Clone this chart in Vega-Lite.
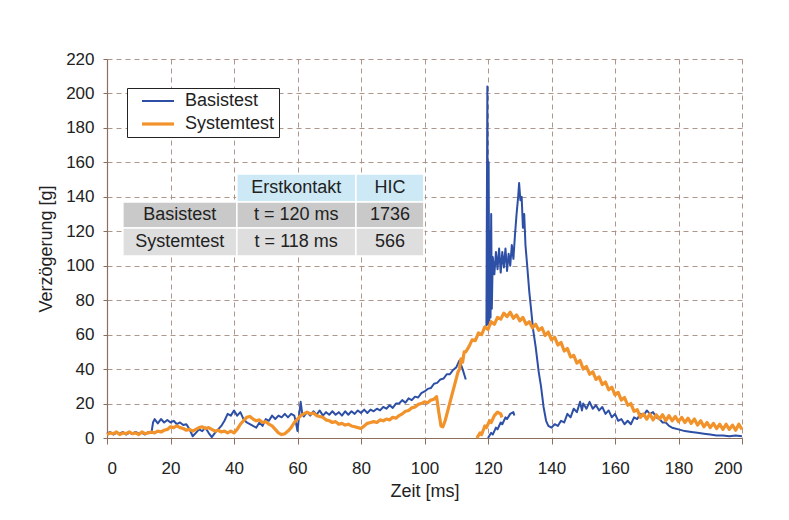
{
"$schema":"https://vega.github.io/schema/vega-lite/v6.json",
"width":635,"height":379,
"padding":{"left":37,"top":50,"right":10,"bottom":10},
"background":"white",
"config":{"font":"Liberation Sans","view":{"stroke":null},
"axis":{"labelFontSize":17,"titleFontSize":18,"titleFontWeight":"normal","labelColor":"#222","titleColor":"#222","domainColor":"#8c6e5e","tickColor":"#8c6e5e","gridColor":"#a58b7e","gridDash":[5,4],"gridOpacity":0.9,"domainWidth":1.2,"labelOverlap":false}},
"layer":[
{"data":{"values":[
{"x0":40.9,"x1":78.4,"y0":137,"y1":153.2,"f":"h"},
{"x0":78.4,"x1":99.8,"y0":137,"y1":153.2,"f":"h"},
{"x0":5,"x1":40.9,"y0":121.9,"y1":137,"f":"a"},
{"x0":40.9,"x1":78.4,"y0":121.9,"y1":137,"f":"a"},
{"x0":78.4,"x1":99.8,"y0":121.9,"y1":137,"f":"a"},
{"x0":5,"x1":40.9,"y0":105.6,"y1":121.9,"f":"b"},
{"x0":40.9,"x1":78.4,"y0":105.6,"y1":121.9,"f":"b"},
{"x0":78.4,"x1":99.8,"y0":105.6,"y1":121.9,"f":"b"}]},
"mark":{"type":"rect","stroke":"white","strokeWidth":1.5},
"encoding":{"x":{"field":"x0","type":"quantitative","scale":{"domain":[0,200],"nice":false},"axis":{"title":"Zeit [ms]","values":[0,20,40,60,80,100,120,140,160,180,200],"tickSize":6,"labelPadding":16,"titlePadding":6,"labelOverlap":false}},"x2":{"field":"x1"},
"y":{"field":"y0","type":"quantitative","scale":{"domain":[0,220],"nice":false},"axis":{"title":"Verzögerung [g]","values":[0,20,40,60,80,100,120,140,160,180,200,220],"tickSize":4,"labelPadding":9,"titlePadding":10,"labelOverlap":false}},"y2":{"field":"y1"},
"fill":{"field":"f","type":"nominal","scale":{"domain":["h","a","b"],"range":["#cde9f6","#c9c9c9","#dedede"]},"legend":null}}},
{"data":{"values":[
{"tx":59.6,"ty":145.1,"txt":"Erstkontakt"},{"tx":89.1,"ty":145.1,"txt":"HIC"},
{"tx":22.9,"ty":129.4,"txt":"Basistest"},{"tx":59.6,"ty":129.4,"txt":"t = 120 ms"},{"tx":89.1,"ty":129.4,"txt":"1736"},
{"tx":22.9,"ty":113.8,"txt":"Systemtest"},{"tx":59.6,"ty":113.8,"txt":"t = 118 ms"},{"tx":89.1,"ty":113.8,"txt":"566"}]},
"mark":{"type":"text","fontSize":18,"color":"#222","align":"center","baseline":"middle"},
"encoding":{"x":{"field":"tx","type":"quantitative","scale":{"domain":[0,200],"nice":false},"axis":{"title":"Zeit [ms]","values":[0,20,40,60,80,100,120,140,160,180,200],"tickSize":6,"labelPadding":16,"titlePadding":6,"labelOverlap":false}},
"y":{"field":"ty","type":"quantitative","scale":{"domain":[0,220],"nice":false},"axis":{"title":"Verzögerung [g]","values":[0,20,40,60,80,100,120,140,160,180,200,220],"tickSize":4,"labelPadding":9,"titlePadding":10,"labelOverlap":false}},"text":{"field":"txt"}}},
{"data":{"values":[
{"s":"Basistest","k":"b1","t":0,"g":2.5},{"s":"Basistest","k":"b1","t":1,"g":3.5},{"s":"Basistest","k":"b1","t":2,"g":2},{"s":"Basistest","k":"b1","t":3,"g":3},{"s":"Basistest","k":"b1","t":4,"g":2.5},{"s":"Basistest","k":"b1","t":5,"g":3.5},{"s":"Basistest","k":"b1","t":6,"g":2},{"s":"Basistest","k":"b1","t":7,"g":3},{"s":"Basistest","k":"b1","t":8,"g":2.5},{"s":"Basistest","k":"b1","t":9,"g":3.5},{"s":"Basistest","k":"b1","t":10,"g":2.5},{"s":"Basistest","k":"b1","t":11,"g":3},{"s":"Basistest","k":"b1","t":12,"g":2},{"s":"Basistest","k":"b1","t":13,"g":3.5},{"s":"Basistest","k":"b1","t":14,"g":3},{"s":"Basistest","k":"b1","t":14.5,"g":9},{"s":"Basistest","k":"b1","t":15,"g":11},{"s":"Basistest","k":"b1","t":16,"g":8.5},{"s":"Basistest","k":"b1","t":17,"g":11},{"s":"Basistest","k":"b1","t":18,"g":9},{"s":"Basistest","k":"b1","t":19,"g":10.5},{"s":"Basistest","k":"b1","t":20,"g":9},{"s":"Basistest","k":"b1","t":21,"g":10},{"s":"Basistest","k":"b1","t":22,"g":8},{"s":"Basistest","k":"b1","t":23,"g":9},{"s":"Basistest","k":"b1","t":24,"g":7.5},{"s":"Basistest","k":"b1","t":25,"g":8},{"s":"Basistest","k":"b1","t":26,"g":5},{"s":"Basistest","k":"b1","t":27,"g":1},{"s":"Basistest","k":"b1","t":28,"g":3},{"s":"Basistest","k":"b1","t":29,"g":5},{"s":"Basistest","k":"b1","t":30,"g":4},{"s":"Basistest","k":"b1","t":31,"g":6},{"s":"Basistest","k":"b1","t":32,"g":3},{"s":"Basistest","k":"b1","t":33,"g":0.5},{"s":"Basistest","k":"b1","t":34,"g":3},{"s":"Basistest","k":"b1","t":35,"g":5},{"s":"Basistest","k":"b1","t":36,"g":7},{"s":"Basistest","k":"b1","t":37,"g":10},{"s":"Basistest","k":"b1","t":38,"g":14},{"s":"Basistest","k":"b1","t":39,"g":13},{"s":"Basistest","k":"b1","t":40,"g":16},{"s":"Basistest","k":"b1","t":41,"g":13},{"s":"Basistest","k":"b1","t":42,"g":15},{"s":"Basistest","k":"b1","t":43,"g":11},{"s":"Basistest","k":"b1","t":44,"g":9},{"s":"Basistest","k":"b1","t":45,"g":8},{"s":"Basistest","k":"b1","t":46,"g":7},{"s":"Basistest","k":"b1","t":47,"g":6},{"s":"Basistest","k":"b1","t":48,"g":9},{"s":"Basistest","k":"b1","t":49,"g":7},{"s":"Basistest","k":"b1","t":50,"g":11},{"s":"Basistest","k":"b1","t":51,"g":10},{"s":"Basistest","k":"b1","t":52,"g":13},{"s":"Basistest","k":"b1","t":53,"g":11},{"s":"Basistest","k":"b1","t":54,"g":13},{"s":"Basistest","k":"b1","t":55,"g":12},{"s":"Basistest","k":"b1","t":56,"g":14},{"s":"Basistest","k":"b1","t":57,"g":12},{"s":"Basistest","k":"b1","t":58,"g":14},{"s":"Basistest","k":"b1","t":59,"g":13},{"s":"Basistest","k":"b1","t":59.5,"g":9},{"s":"Basistest","k":"b1","t":60,"g":4},{"s":"Basistest","k":"b1","t":60.5,"g":13},{"s":"Basistest","k":"b1","t":61,"g":21},{"s":"Basistest","k":"b1","t":61.5,"g":14},{"s":"Basistest","k":"b1","t":62,"g":12.5},{"s":"Basistest","k":"b1","t":63,"g":15},{"s":"Basistest","k":"b1","t":64,"g":13},{"s":"Basistest","k":"b1","t":65,"g":15.5},{"s":"Basistest","k":"b1","t":66,"g":13.5},{"s":"Basistest","k":"b1","t":67,"g":16},{"s":"Basistest","k":"b1","t":68,"g":13},{"s":"Basistest","k":"b1","t":69,"g":15},{"s":"Basistest","k":"b1","t":70,"g":13.5},{"s":"Basistest","k":"b1","t":71,"g":15.5},{"s":"Basistest","k":"b1","t":72,"g":13.5},{"s":"Basistest","k":"b1","t":73,"g":15},{"s":"Basistest","k":"b1","t":74,"g":13},{"s":"Basistest","k":"b1","t":75,"g":15.5},{"s":"Basistest","k":"b1","t":76,"g":13.5},{"s":"Basistest","k":"b1","t":77,"g":15.5},{"s":"Basistest","k":"b1","t":78,"g":14},{"s":"Basistest","k":"b1","t":79,"g":16},{"s":"Basistest","k":"b1","t":80,"g":14.5},{"s":"Basistest","k":"b1","t":81,"g":16.5},{"s":"Basistest","k":"b1","t":82,"g":14.5},{"s":"Basistest","k":"b1","t":83,"g":16.5},{"s":"Basistest","k":"b1","t":84,"g":15.5},{"s":"Basistest","k":"b1","t":85,"g":17},{"s":"Basistest","k":"b1","t":86,"g":16},{"s":"Basistest","k":"b1","t":87,"g":18},{"s":"Basistest","k":"b1","t":88,"g":17},{"s":"Basistest","k":"b1","t":89,"g":19},{"s":"Basistest","k":"b1","t":90,"g":17.5},{"s":"Basistest","k":"b1","t":91,"g":20},{"s":"Basistest","k":"b1","t":92,"g":20},{"s":"Basistest","k":"b1","t":93,"g":22},{"s":"Basistest","k":"b1","t":94,"g":20.5},{"s":"Basistest","k":"b1","t":95,"g":23},{"s":"Basistest","k":"b1","t":96,"g":22},{"s":"Basistest","k":"b1","t":97,"g":24},{"s":"Basistest","k":"b1","t":98,"g":23.5},{"s":"Basistest","k":"b1","t":99,"g":26},{"s":"Basistest","k":"b1","t":100,"g":27},{"s":"Basistest","k":"b1","t":101,"g":28.5},{"s":"Basistest","k":"b1","t":102,"g":29},{"s":"Basistest","k":"b1","t":103,"g":31.5},{"s":"Basistest","k":"b1","t":104,"g":32},{"s":"Basistest","k":"b1","t":105,"g":34},{"s":"Basistest","k":"b1","t":106,"g":34.5},{"s":"Basistest","k":"b1","t":107,"g":37},{"s":"Basistest","k":"b1","t":108,"g":37},{"s":"Basistest","k":"b1","t":109,"g":39.5},{"s":"Basistest","k":"b1","t":110,"g":41},{"s":"Basistest","k":"b1","t":111,"g":45},{"s":"Basistest","k":"b1","t":112,"g":40},{"s":"Basistest","k":"b1","t":113,"g":34},
{"s":"Basistest","k":"b2","t":119.5,"g":65},{"s":"Basistest","k":"b2","t":119.8,"g":204},{"s":"Basistest","k":"b2","t":120,"g":66},{"s":"Basistest","k":"b2","t":120.2,"g":160},{"s":"Basistest","k":"b2","t":120.4,"g":68},{"s":"Basistest","k":"b2","t":120.6,"g":120},{"s":"Basistest","k":"b2","t":120.8,"g":70},{"s":"Basistest","k":"b2","t":121,"g":130},{"s":"Basistest","k":"b2","t":121.2,"g":75},{"s":"Basistest","k":"b2","t":121.5,"g":105},{"s":"Basistest","k":"b2","t":122,"g":95},{"s":"Basistest","k":"b2","t":122.5,"g":108},{"s":"Basistest","k":"b2","t":123,"g":98},{"s":"Basistest","k":"b2","t":123.5,"g":110},{"s":"Basistest","k":"b2","t":124,"g":96},{"s":"Basistest","k":"b2","t":124.5,"g":108},{"s":"Basistest","k":"b2","t":125,"g":99},{"s":"Basistest","k":"b2","t":125.5,"g":110},{"s":"Basistest","k":"b2","t":126,"g":97},{"s":"Basistest","k":"b2","t":126.5,"g":107},{"s":"Basistest","k":"b2","t":127,"g":100},{"s":"Basistest","k":"b2","t":127.5,"g":112},{"s":"Basistest","k":"b2","t":128,"g":104},{"s":"Basistest","k":"b2","t":128.5,"g":118},{"s":"Basistest","k":"b2","t":129,"g":130},{"s":"Basistest","k":"b2","t":129.5,"g":140},{"s":"Basistest","k":"b2","t":129.8,"g":148},{"s":"Basistest","k":"b2","t":130.2,"g":138},{"s":"Basistest","k":"b2","t":130.6,"g":140},{"s":"Basistest","k":"b2","t":131,"g":122},{"s":"Basistest","k":"b2","t":131.4,"g":130},{"s":"Basistest","k":"b2","t":131.8,"g":112},{"s":"Basistest","k":"b2","t":132.3,"g":101},{"s":"Basistest","k":"b2","t":133,"g":85},{"s":"Basistest","k":"b2","t":133.5,"g":76},{"s":"Basistest","k":"b2","t":134.2,"g":63},{"s":"Basistest","k":"b2","t":135,"g":53},{"s":"Basistest","k":"b2","t":136,"g":38},{"s":"Basistest","k":"b2","t":136.7,"g":30},{"s":"Basistest","k":"b2","t":137.5,"g":18},{"s":"Basistest","k":"b2","t":138.3,"g":10},{"s":"Basistest","k":"b2","t":139,"g":7},{"s":"Basistest","k":"b2","t":140,"g":6},{"s":"Basistest","k":"b2","t":141,"g":8},{"s":"Basistest","k":"b2","t":142,"g":7},{"s":"Basistest","k":"b2","t":143,"g":10},{"s":"Basistest","k":"b2","t":144,"g":9},{"s":"Basistest","k":"b2","t":145,"g":14},{"s":"Basistest","k":"b2","t":146,"g":12},{"s":"Basistest","k":"b2","t":147,"g":17},{"s":"Basistest","k":"b2","t":148,"g":15},{"s":"Basistest","k":"b2","t":149,"g":21},{"s":"Basistest","k":"b2","t":149.6,"g":16},{"s":"Basistest","k":"b2","t":150,"g":20},{"s":"Basistest","k":"b2","t":151,"g":17},{"s":"Basistest","k":"b2","t":152,"g":21},{"s":"Basistest","k":"b2","t":153,"g":17},{"s":"Basistest","k":"b2","t":154,"g":19},{"s":"Basistest","k":"b2","t":155,"g":16},{"s":"Basistest","k":"b2","t":156,"g":18},{"s":"Basistest","k":"b2","t":157,"g":14},{"s":"Basistest","k":"b2","t":158,"g":16},{"s":"Basistest","k":"b2","t":159,"g":12},{"s":"Basistest","k":"b2","t":160,"g":14},{"s":"Basistest","k":"b2","t":161,"g":10},{"s":"Basistest","k":"b2","t":162,"g":11},{"s":"Basistest","k":"b2","t":163,"g":8},{"s":"Basistest","k":"b2","t":164,"g":10},{"s":"Basistest","k":"b2","t":165,"g":8},{"s":"Basistest","k":"b2","t":166,"g":12},{"s":"Basistest","k":"b2","t":167,"g":11},{"s":"Basistest","k":"b2","t":168,"g":14},{"s":"Basistest","k":"b2","t":169,"g":13},{"s":"Basistest","k":"b2","t":170,"g":16},{"s":"Basistest","k":"b2","t":171,"g":14},{"s":"Basistest","k":"b2","t":172,"g":15},{"s":"Basistest","k":"b2","t":173,"g":12},{"s":"Basistest","k":"b2","t":174,"g":11},{"s":"Basistest","k":"b2","t":175,"g":9},{"s":"Basistest","k":"b2","t":176,"g":9},{"s":"Basistest","k":"b2","t":177,"g":7},{"s":"Basistest","k":"b2","t":178,"g":6},{"s":"Basistest","k":"b2","t":180,"g":5},{"s":"Basistest","k":"b2","t":182,"g":4},{"s":"Basistest","k":"b2","t":184,"g":3.5},{"s":"Basistest","k":"b2","t":186,"g":3},{"s":"Basistest","k":"b2","t":188,"g":2.5},{"s":"Basistest","k":"b2","t":190,"g":2},{"s":"Basistest","k":"b2","t":192,"g":1.5},{"s":"Basistest","k":"b2","t":194,"g":1.5},{"s":"Basistest","k":"b2","t":196,"g":1},{"s":"Basistest","k":"b2","t":198,"g":1.5},{"s":"Basistest","k":"b2","t":200,"g":1},
{"s":"Basistest","k":"b3","t":120,"g":0},{"s":"Basistest","k":"b3","t":121,"g":3},{"s":"Basistest","k":"b3","t":121.5,"g":2},{"s":"Basistest","k":"b3","t":122.5,"g":6},{"s":"Basistest","k":"b3","t":123,"g":5},{"s":"Basistest","k":"b3","t":124,"g":9},{"s":"Basistest","k":"b3","t":124.5,"g":8},{"s":"Basistest","k":"b3","t":125.5,"g":12},{"s":"Basistest","k":"b3","t":126,"g":11},{"s":"Basistest","k":"b3","t":127,"g":14},{"s":"Basistest","k":"b3","t":128,"g":15},{"s":"Basistest","k":"b3","t":128.3,"g":13},
{"s":"Systemtest","k":"o1","t":0,"g":2},{"s":"Systemtest","k":"o1","t":1,"g":3},{"s":"Systemtest","k":"o1","t":2,"g":2.5},{"s":"Systemtest","k":"o1","t":3,"g":3.5},{"s":"Systemtest","k":"o1","t":4,"g":2},{"s":"Systemtest","k":"o1","t":5,"g":3},{"s":"Systemtest","k":"o1","t":6,"g":2.5},{"s":"Systemtest","k":"o1","t":7,"g":3.5},{"s":"Systemtest","k":"o1","t":8,"g":2.5},{"s":"Systemtest","k":"o1","t":9,"g":3},{"s":"Systemtest","k":"o1","t":10,"g":2},{"s":"Systemtest","k":"o1","t":11,"g":3.5},{"s":"Systemtest","k":"o1","t":12,"g":2.5},{"s":"Systemtest","k":"o1","t":13,"g":3},{"s":"Systemtest","k":"o1","t":14,"g":3.5},{"s":"Systemtest","k":"o1","t":15,"g":3},{"s":"Systemtest","k":"o1","t":16,"g":4},{"s":"Systemtest","k":"o1","t":17,"g":3.5},{"s":"Systemtest","k":"o1","t":18,"g":4.5},{"s":"Systemtest","k":"o1","t":19,"g":5},{"s":"Systemtest","k":"o1","t":20,"g":6.5},{"s":"Systemtest","k":"o1","t":21,"g":6},{"s":"Systemtest","k":"o1","t":22,"g":7},{"s":"Systemtest","k":"o1","t":23,"g":6},{"s":"Systemtest","k":"o1","t":24,"g":5.5},{"s":"Systemtest","k":"o1","t":25,"g":4.5},{"s":"Systemtest","k":"o1","t":26,"g":5},{"s":"Systemtest","k":"o1","t":27,"g":4},{"s":"Systemtest","k":"o1","t":28,"g":5},{"s":"Systemtest","k":"o1","t":29,"g":6},{"s":"Systemtest","k":"o1","t":30,"g":6.5},{"s":"Systemtest","k":"o1","t":31,"g":5.5},{"s":"Systemtest","k":"o1","t":32,"g":6},{"s":"Systemtest","k":"o1","t":33,"g":5},{"s":"Systemtest","k":"o1","t":34,"g":4},{"s":"Systemtest","k":"o1","t":35,"g":4.5},{"s":"Systemtest","k":"o1","t":36,"g":3.5},{"s":"Systemtest","k":"o1","t":37,"g":4},{"s":"Systemtest","k":"o1","t":38,"g":3},{"s":"Systemtest","k":"o1","t":39,"g":4},{"s":"Systemtest","k":"o1","t":40,"g":3},{"s":"Systemtest","k":"o1","t":41,"g":5},{"s":"Systemtest","k":"o1","t":42,"g":8},{"s":"Systemtest","k":"o1","t":43,"g":10},{"s":"Systemtest","k":"o1","t":44,"g":12},{"s":"Systemtest","k":"o1","t":45,"g":12.5},{"s":"Systemtest","k":"o1","t":46,"g":11},{"s":"Systemtest","k":"o1","t":47,"g":10},{"s":"Systemtest","k":"o1","t":48,"g":10.5},{"s":"Systemtest","k":"o1","t":49,"g":9},{"s":"Systemtest","k":"o1","t":50,"g":9.5},{"s":"Systemtest","k":"o1","t":51,"g":8},{"s":"Systemtest","k":"o1","t":52,"g":7},{"s":"Systemtest","k":"o1","t":53,"g":5},{"s":"Systemtest","k":"o1","t":54,"g":3},{"s":"Systemtest","k":"o1","t":55,"g":2},{"s":"Systemtest","k":"o1","t":56,"g":2.5},{"s":"Systemtest","k":"o1","t":57,"g":4},{"s":"Systemtest","k":"o1","t":58,"g":6},{"s":"Systemtest","k":"o1","t":59,"g":9},{"s":"Systemtest","k":"o1","t":60,"g":11},{"s":"Systemtest","k":"o1","t":61,"g":13},{"s":"Systemtest","k":"o1","t":62,"g":14},{"s":"Systemtest","k":"o1","t":63,"g":15},{"s":"Systemtest","k":"o1","t":64,"g":14},{"s":"Systemtest","k":"o1","t":65,"g":14.5},{"s":"Systemtest","k":"o1","t":66,"g":13},{"s":"Systemtest","k":"o1","t":67,"g":12.5},{"s":"Systemtest","k":"o1","t":68,"g":12},{"s":"Systemtest","k":"o1","t":69,"g":10.5},{"s":"Systemtest","k":"o1","t":70,"g":10},{"s":"Systemtest","k":"o1","t":71,"g":9},{"s":"Systemtest","k":"o1","t":72,"g":9.5},{"s":"Systemtest","k":"o1","t":73,"g":8},{"s":"Systemtest","k":"o1","t":74,"g":8.5},{"s":"Systemtest","k":"o1","t":75,"g":7.5},{"s":"Systemtest","k":"o1","t":76,"g":8},{"s":"Systemtest","k":"o1","t":77,"g":7},{"s":"Systemtest","k":"o1","t":78,"g":6.5},{"s":"Systemtest","k":"o1","t":79,"g":6},{"s":"Systemtest","k":"o1","t":80,"g":5.5},{"s":"Systemtest","k":"o1","t":81,"g":7},{"s":"Systemtest","k":"o1","t":82,"g":8.5},{"s":"Systemtest","k":"o1","t":83,"g":9},{"s":"Systemtest","k":"o1","t":84,"g":9.5},{"s":"Systemtest","k":"o1","t":85,"g":9},{"s":"Systemtest","k":"o1","t":86,"g":10.5},{"s":"Systemtest","k":"o1","t":87,"g":10},{"s":"Systemtest","k":"o1","t":88,"g":11},{"s":"Systemtest","k":"o1","t":89,"g":10.5},{"s":"Systemtest","k":"o1","t":90,"g":12},{"s":"Systemtest","k":"o1","t":91,"g":11.5},{"s":"Systemtest","k":"o1","t":92,"g":13},{"s":"Systemtest","k":"o1","t":93,"g":14},{"s":"Systemtest","k":"o1","t":94,"g":15.5},{"s":"Systemtest","k":"o1","t":95,"g":16},{"s":"Systemtest","k":"o1","t":96,"g":17.5},{"s":"Systemtest","k":"o1","t":97,"g":18},{"s":"Systemtest","k":"o1","t":98,"g":19.5},{"s":"Systemtest","k":"o1","t":99,"g":20},{"s":"Systemtest","k":"o1","t":100,"g":21},{"s":"Systemtest","k":"o1","t":101,"g":20.5},{"s":"Systemtest","k":"o1","t":102,"g":22},{"s":"Systemtest","k":"o1","t":103,"g":22.5},{"s":"Systemtest","k":"o1","t":103.8,"g":24},{"s":"Systemtest","k":"o1","t":104.5,"g":15},{"s":"Systemtest","k":"o1","t":105.2,"g":7},{"s":"Systemtest","k":"o1","t":105.8,"g":6.5},{"s":"Systemtest","k":"o1","t":106.5,"g":10},{"s":"Systemtest","k":"o1","t":107.5,"g":17},{"s":"Systemtest","k":"o1","t":108.5,"g":24},{"s":"Systemtest","k":"o1","t":109.5,"g":31},{"s":"Systemtest","k":"o1","t":110.5,"g":38},{"s":"Systemtest","k":"o1","t":111,"g":40},{"s":"Systemtest","k":"o1","t":111.5,"g":46},{"s":"Systemtest","k":"o1","t":112,"g":44},{"s":"Systemtest","k":"o1","t":112.5,"g":50},{"s":"Systemtest","k":"o1","t":113,"g":50},{"s":"Systemtest","k":"o1","t":114,"g":53},{"s":"Systemtest","k":"o1","t":115,"g":57},{"s":"Systemtest","k":"o1","t":116,"g":56.5},{"s":"Systemtest","k":"o1","t":117,"g":61},{"s":"Systemtest","k":"o1","t":118,"g":60},{"s":"Systemtest","k":"o1","t":119,"g":64.5},{"s":"Systemtest","k":"o1","t":120,"g":63},{"s":"Systemtest","k":"o1","t":121,"g":67.5},{"s":"Systemtest","k":"o1","t":122,"g":66},{"s":"Systemtest","k":"o1","t":123,"g":70},{"s":"Systemtest","k":"o1","t":124,"g":69},{"s":"Systemtest","k":"o1","t":125,"g":72.5},{"s":"Systemtest","k":"o1","t":126,"g":70.5},{"s":"Systemtest","k":"o1","t":127,"g":73},{"s":"Systemtest","k":"o1","t":128,"g":69.5},{"s":"Systemtest","k":"o1","t":129,"g":71.5},{"s":"Systemtest","k":"o1","t":130,"g":68},{"s":"Systemtest","k":"o1","t":131,"g":70},{"s":"Systemtest","k":"o1","t":132,"g":66},{"s":"Systemtest","k":"o1","t":133,"g":67.5},{"s":"Systemtest","k":"o1","t":134,"g":64},{"s":"Systemtest","k":"o1","t":135,"g":66},{"s":"Systemtest","k":"o1","t":136,"g":62.5},{"s":"Systemtest","k":"o1","t":137,"g":64},{"s":"Systemtest","k":"o1","t":138,"g":59.5},{"s":"Systemtest","k":"o1","t":139,"g":61.5},{"s":"Systemtest","k":"o1","t":140,"g":57},{"s":"Systemtest","k":"o1","t":141,"g":58.5},{"s":"Systemtest","k":"o1","t":142,"g":54},{"s":"Systemtest","k":"o1","t":143,"g":55.5},{"s":"Systemtest","k":"o1","t":144,"g":50.5},{"s":"Systemtest","k":"o1","t":145,"g":52},{"s":"Systemtest","k":"o1","t":146,"g":47},{"s":"Systemtest","k":"o1","t":147,"g":48},{"s":"Systemtest","k":"o1","t":148,"g":43.5},{"s":"Systemtest","k":"o1","t":149,"g":45},{"s":"Systemtest","k":"o1","t":150,"g":40},{"s":"Systemtest","k":"o1","t":151,"g":41.5},{"s":"Systemtest","k":"o1","t":152,"g":37},{"s":"Systemtest","k":"o1","t":153,"g":38.5},{"s":"Systemtest","k":"o1","t":154,"g":34},{"s":"Systemtest","k":"o1","t":155,"g":35.5},{"s":"Systemtest","k":"o1","t":156,"g":31},{"s":"Systemtest","k":"o1","t":157,"g":32.5},{"s":"Systemtest","k":"o1","t":158,"g":28},{"s":"Systemtest","k":"o1","t":159,"g":29.5},{"s":"Systemtest","k":"o1","t":160,"g":25},{"s":"Systemtest","k":"o1","t":161,"g":26.5},{"s":"Systemtest","k":"o1","t":162,"g":22},{"s":"Systemtest","k":"o1","t":163,"g":23.5},{"s":"Systemtest","k":"o1","t":164,"g":19},{"s":"Systemtest","k":"o1","t":165,"g":20},{"s":"Systemtest","k":"o1","t":166,"g":15.5},{"s":"Systemtest","k":"o1","t":167,"g":16.5},{"s":"Systemtest","k":"o1","t":168,"g":12},{"s":"Systemtest","k":"o1","t":169,"g":14},{"s":"Systemtest","k":"o1","t":170,"g":11},{"s":"Systemtest","k":"o1","t":171,"g":14},{"s":"Systemtest","k":"o1","t":172,"g":10.5},{"s":"Systemtest","k":"o1","t":173,"g":13.5},{"s":"Systemtest","k":"o1","t":174,"g":11},{"s":"Systemtest","k":"o1","t":175,"g":13.5},{"s":"Systemtest","k":"o1","t":176,"g":10},{"s":"Systemtest","k":"o1","t":177,"g":13},{"s":"Systemtest","k":"o1","t":178,"g":10},{"s":"Systemtest","k":"o1","t":179,"g":12.5},{"s":"Systemtest","k":"o1","t":180,"g":9.5},{"s":"Systemtest","k":"o1","t":181,"g":12},{"s":"Systemtest","k":"o1","t":182,"g":9},{"s":"Systemtest","k":"o1","t":183,"g":11.5},{"s":"Systemtest","k":"o1","t":184,"g":8.5},{"s":"Systemtest","k":"o1","t":185,"g":11},{"s":"Systemtest","k":"o1","t":186,"g":7.5},{"s":"Systemtest","k":"o1","t":187,"g":10},{"s":"Systemtest","k":"o1","t":188,"g":6.5},{"s":"Systemtest","k":"o1","t":189,"g":9},{"s":"Systemtest","k":"o1","t":190,"g":6},{"s":"Systemtest","k":"o1","t":191,"g":8.5},{"s":"Systemtest","k":"o1","t":192,"g":5.5},{"s":"Systemtest","k":"o1","t":193,"g":8},{"s":"Systemtest","k":"o1","t":194,"g":5},{"s":"Systemtest","k":"o1","t":195,"g":8},{"s":"Systemtest","k":"o1","t":196,"g":5},{"s":"Systemtest","k":"o1","t":197,"g":7.5},{"s":"Systemtest","k":"o1","t":198,"g":4.5},{"s":"Systemtest","k":"o1","t":199,"g":8},{"s":"Systemtest","k":"o1","t":200,"g":5},
{"s":"Systemtest","k":"o2","t":116.5,"g":0},{"s":"Systemtest","k":"o2","t":117.5,"g":3},{"s":"Systemtest","k":"o2","t":118,"g":2},{"s":"Systemtest","k":"o2","t":119,"g":7},{"s":"Systemtest","k":"o2","t":119.5,"g":6},{"s":"Systemtest","k":"o2","t":120.5,"g":10},{"s":"Systemtest","k":"o2","t":121,"g":9},{"s":"Systemtest","k":"o2","t":122,"g":13},{"s":"Systemtest","k":"o2","t":123,"g":15},{"s":"Systemtest","k":"o2","t":124,"g":14},{"s":"Systemtest","k":"o2","t":124.4,"g":12}
]},
"mark":{"type":"line","strokeJoin":"round"},
"encoding":{
"x":{"field":"t","type":"quantitative","scale":{"domain":[0,200],"nice":false},"axis":{"title":"Zeit [ms]","values":[0,20,40,60,80,100,120,140,160,180,200],"tickSize":6,"labelPadding":16,"titlePadding":6,"labelOverlap":false}},
"y":{"field":"g","type":"quantitative","scale":{"domain":[0,220],"nice":false},"axis":{"title":"Verzögerung [g]","values":[0,20,40,60,80,100,120,140,160,180,200,220],"tickSize":4,"labelPadding":9,"titlePadding":10,"labelOverlap":false}},
"color":{"field":"s","type":"nominal","scale":{"domain":["Basistest","Systemtest"],"range":["#2D4FA5","#F2922A"]},
"legend":{"title":null,"orient":"none","legendX":20,"legendY":29,"symbolType":"M0.5,0H8.5","symbolSize":64,"symbolStrokeWidth":2,"labelFontSize":18,"labelColor":"#222","strokeColor":"#222","fillColor":"white","padding":4,"rowPadding":5,"labelOffset":36}},
"strokeWidth":{"field":"s","type":"nominal","scale":{"domain":["Basistest","Systemtest"],"range":[2,3.2]},"legend":null},
"detail":{"field":"k"}}}
]}
